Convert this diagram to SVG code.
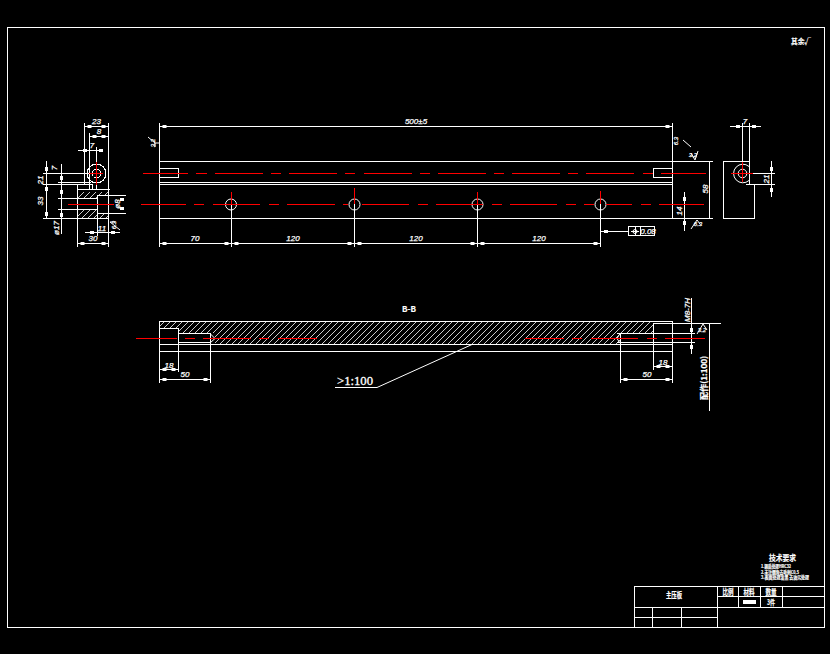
<svg xmlns="http://www.w3.org/2000/svg" width="830" height="654" viewBox="0 0 830 654">
<style>
.l{stroke:#fff;stroke-width:1;fill:none}
.r{stroke:#f00;stroke-width:1;fill:none}
.d{stroke:#fff;stroke-width:1;fill:none;marker-start:url(#t);marker-end:url(#t)}
.k{fill:#fff;stroke:none}
text{fill:#fff;font-family:"Liberation Sans","Noto Sans CJK SC",sans-serif;font-size:8px;font-style:italic;text-anchor:middle;stroke:#fff;stroke-width:.25}
.c{font-family:"Noto Sans CJK SC",sans-serif;font-style:normal;font-weight:700;stroke-width:.2}
.s{font-size:4.6px;text-anchor:start}
.u{font-size:6px}
</style>
<defs>
<marker id="t" markerUnits="userSpaceOnUse" markerWidth="8" markerHeight="6" refX="0" refY="0" viewBox="-6 -3 8 6" orient="auto-start-reverse" overflow="visible"><rect x="-7" y="-1.5" width="4" height="3" fill="#fff"/></marker>
<pattern id="h" patternUnits="userSpaceOnUse" width="6" height="6"><path d="M-1 7L7 -1M-1 1L1 -1M5 7L7 5" stroke="#fff" stroke-width=".8"/></pattern>
</defs>
<rect width="830" height="654" fill="#000"/>
<g id="frame" shape-rendering="crispEdges">
<rect class="l" x="7.500" y="27.500" width="817" height="600"/>
</g>
<g id="left-view" shape-rendering="crispEdges">
<path class="l" d="M84.500 123V184M108.500 123V247M89.500 133V184M96.500 147V190M77.500 184V247M97.500 196V236M43 173.500H96M58 182.500H91M43 184.500H92M92 184V189M89 182V189M43 218.500H108.500M77 189.500H110M58 198.500H97M58 209.500H97M97 195.500H126M97 213.500H126M46.500 161V218M61.500 164V234"/>
<path d="M78 192H97V198H78ZM98 192H108V195H98ZM78 210H97V218H78ZM98 214H108V218H98Z" fill="url(#h)"/>
<circle class="l" cx="96.500" cy="173.500" r="9.500"/>
<circle class="l" cx="96.500" cy="173.500" r="4.500"/>
<path class="r" d="M96.500 162V185M89 173.500H103M68 204.500H114"/>
</g>
<g id="main-view" shape-rendering="crispEdges">
<path class="l" d="M159.500 161.500H713M159.500 182.500H672M159.500 184.500H672M159.500 218.500H713M159.500 123V247M672.500 123V218M709.500 161V218M231.500 204V247M354.500 204V247M477.500 204V247M600.500 204V247M672 204.500H688M684.500 192V231M600 231.500H628"/>
<rect class="l" x="159.500" y="168.500" width="19" height="9"/>
<rect class="l" x="653.500" y="168.500" width="19" height="9"/>
<g shape-rendering="auto">
<circle class="l" cx="231" cy="204.500" r="5.500"/><circle class="l" cx="354.500" cy="204.500" r="5.500"/><circle class="l" cx="477.500" cy="204.500" r="5.500"/><circle class="l" cx="600.500" cy="204.500" r="5.500"/>
</g>
<path class="r" d="M143 173.500H188M196 173.500H207M215 173.500H263M271 173.500H281M289 173.500H337M345 173.500H355M364 173.500H412M420 173.500H430M438 173.500H486M494 173.500H504M512 173.500H560M568 173.500H578M586 173.500H634M643 173.500H653M661 173.500H706"/>
<path class="r" d="M141 204.500H186M194 204.500H204M213 204.500H260M269 204.500H279M287 204.500H335M343 204.500H348M362 204.500H409M418 204.500H428M436 204.500H483M492 204.500H502M510 204.500H557M566 204.500H576M584 204.500H594M606 204.500H632M641 204.500H651M659 204.500H704M231.500 192V204M354.500 188V204M477.500 192V204M600.500 191V204"/>
<rect class="l" x="628.500" y="226.500" width="26" height="9"/>
<path class="l" d="M640.500 226V235M631 231.500H639M635 227V235"/>
<circle class="l" cx="635" cy="231.500" r="2" shape-rendering="auto"/>
<text x="648" y="234">0.08</text>
</g>
<g id="right-view" shape-rendering="crispEdges">
<path class="l" d="M723.500 161.500H749.500M723.500 161V218.500H754.500V184M749.500 123V184M742.500 123V164M746 184.500H775M749 173.500H775M771.500 161V197"/>
<g shape-rendering="auto"><path class="l" d="M749 166.500A9.300 9.300 0 1 0 749 180.500"/><circle class="l" cx="742.500" cy="173.500" r="4.300"/></g>
<path class="r" d="M742.500 162V182M731 173.500H753"/>
</g>
<g id="section-view" shape-rendering="crispEdges">
<path fill-rule="evenodd" d="M160 322H653V333H621V344H215V333H178V328H160Z" fill="url(#h)"/>
<path class="l" d="M159.500 321.500H672M159.500 344.500H672M159.500 351.500H672M159.500 321V383M178.500 328V372M210.500 333V383M159.500 328.500H178M178 333.500H210M178 342.500H210M653.500 323V370M620.500 333V383M672.500 321V383M617 333.500H695M617 342.500H695M653 323.500H721M691.500 298V354M709.500 323V411"/>
<path class="l" d="M210 333.500L215 338.500L210 343M620 333.500L617 338.500L620 343" shape-rendering="auto"/>
<path class="r" d="M136 338.500H177M185 338.500H195M203 338.500H251M259 338.500H269M278 338.500H317M525 338.500H564M572 338.500H582M591 338.500H638M647 338.500H657M665 338.500H705"/>
<path class="l" d="M335 387.500H377"/>
<path class="l" d="M377 387.500L472 344.500" shape-rendering="auto"/>
<text x="409" y="312" class="c">B-B</text>
<text x="355" y="385" textLength="36" lengthAdjust="spacingAndGlyphs" style="font-family:'Liberation Serif',serif;font-style:normal;font-size:12px;stroke-width:.3">&gt;1:100</text>
<text transform="translate(690 310) rotate(-90)">M8-7H</text>
<text class="c" transform="translate(707 378) rotate(-90)" textLength="44" lengthAdjust="spacingAndGlyphs" style="font-size:8px">配作(1:100)</text>
</g>
<g id="dimensions" shape-rendering="crispEdges">
<path class="d" d="M84.500 126.500H108.500"/>
<path class="d" d="M89.500 136.500H108.500"/>
<path class="d" d="M159.500 243.500H231.500"/><path class="d" d="M231.500 243.500H354.500"/><path class="d" d="M354.500 243.500H477.500"/><path class="d" d="M477.500 243.500H600.500"/>
<path class="d" d="M159.500 126.500H672.500"/>
<path class="d" d="M77.500 243.500H108.500"/>
<path class="d" d="M159.500 369.500H178.500"/><path class="d" d="M159.500 379.500H210.500"/>
<path class="d" d="M653.500 366.500H672.500"/><path class="d" d="M620.500 379.500H672.500"/>
<path class="l" d="M78 150.500H100M85 232.500H120M730 126.500H761"/>
<path class="k" d="M83 149H87V152H83ZM99 149H103V152H99ZM90 231H94V234H90ZM111 231H115V234H111ZM736 125H740V128H736ZM752 125H756V128H752ZM45 167H48V171H45ZM45 187H48V191H45ZM45 212H48V216H45ZM60 176H63V180H60ZM60 190H63V194H60ZM60 213H63V217H60ZM120 198H124V201H120ZM120 207H124V210H120ZM683 197H686V201H683ZM683 221H686V225H683ZM770 167H773V171H770ZM770 188H773V192H770ZM690 328H693V332H690ZM690 345H693V349H690ZM604 229.500H608V232.500H604Z"/>
<text x="96.500" y="124">23</text><text x="99" y="134">8</text><text x="92" y="148">7</text>
<text transform="translate(57 168) rotate(-90)">7</text>
<text transform="translate(43 180) rotate(-90)">21</text><text transform="translate(43 201) rotate(-90)">33</text><text transform="translate(59 228) rotate(-90)">ø17</text>
<text transform="translate(120 204) rotate(-90)">ø8</text>
<text x="102" y="231">11</text><text x="93" y="241">30</text>
<text x="195" y="241">70</text><text x="293" y="241">120</text><text x="416" y="241">120</text><text x="539" y="241">120</text>
<text x="416" y="124">500±5</text>
<text x="745" y="124">7</text><text transform="translate(769 179) rotate(-90)">21</text>
<text transform="translate(708 189) rotate(-90)">58</text><text transform="translate(682 211) rotate(-90)">14</text>
<text x="169" y="368">18</text><text x="185" y="377">50</text>
<text x="663" y="365">18</text><text x="647" y="377">50</text>
<g shape-rendering="auto">
<path class="l" d="M148 137L155 143V147M155 143H159"/><text class="u" transform="translate(155 143) rotate(-90)">3.2</text>
<path class="l" d="M110 222L120 230M110 222H115"/><text class="u" transform="translate(116 225) rotate(-90)">6.3</text>
<path class="l" d="M683 140L691 147"/><text class="u" transform="translate(678 141) rotate(-90)">6.3</text>
<path class="l" d="M698 151L695 160L691 153"/><text class="u" x="693" y="157">3.2</text>
<path class="l" d="M691 229L697 220L700 224"/><text class="u" x="698" y="226">6.3</text>
<path class="l" d="M697 334L703 324L707 330"/><text class="u" x="702" y="332">3.2</text>
</g>
</g>
<g id="title-block" shape-rendering="crispEdges">
<path class="l" d="M634.500 586.500H825M634.500 586V627M634 607.500H825M634 617.500H717M717.500 586V627M717 596.500H825M738.500 586V607M760.500 586V607M782.500 586V607M652.500 607V627M681.500 607V627"/>
<rect class="k" x="743" y="600" width="13" height="4"/>
<text class="c" x="674" y="598" textLength="16" lengthAdjust="spacingAndGlyphs">主压板</text>
<text class="c" x="728" y="595" textLength="11" lengthAdjust="spacingAndGlyphs">比例</text>
<text class="c" x="749" y="595" textLength="11" lengthAdjust="spacingAndGlyphs">材料</text>
<text class="c" x="771" y="595" textLength="11" lengthAdjust="spacingAndGlyphs">数量</text>
<text class="c" x="771" y="605" textLength="8" lengthAdjust="spacingAndGlyphs" style="font-size:7px">3件</text>
<text class="c" x="782.500" y="561" textLength="27" lengthAdjust="spacingAndGlyphs">技术要求</text>
<text class="c s" x="761" y="568" textLength="30" lengthAdjust="spacingAndGlyphs">1.调质处理HRC32</text>
<text class="c s" x="761" y="574" textLength="38" lengthAdjust="spacingAndGlyphs">2.未注倒角去毛刺C0.5</text>
<text class="c s" x="761" y="579" textLength="48" lengthAdjust="spacingAndGlyphs">3.表面处理发黑 去油污处理</text>
<text class="c" x="801" y="43.500" textLength="20" lengthAdjust="spacingAndGlyphs" style="font-size:7px">其余√</text>
</g>
</svg>
